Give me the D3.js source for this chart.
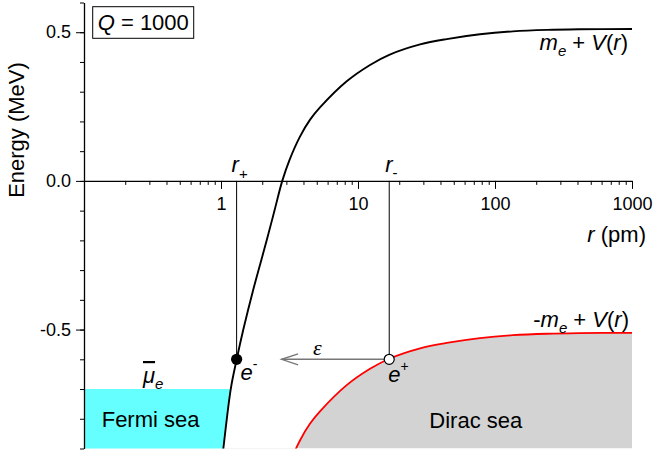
<!DOCTYPE html>
<html>
<head>
<meta charset="utf-8">
<script src="https://d3js.org/d3.v7.min.js"></script>
<style>
  body { margin: 0; background: #fff; }
  svg { font-family: "Liberation Sans", Arial, sans-serif; }
  .axis path, .axis line { stroke: #000; }
</style>
</head>
<body>
<script>
// radius (pm) and potential V(r) (MeV)
const rPm  = [1.0, 1.04, 1.178, 1.302, 1.455, 1.721, 2.156, 2.45, 2.80, 3.16, 3.77, 4.47, 5.28, 8.27, 12.24, 16.9, 28.4, 44.4, 77.7, 135, 240, 417, 1000];
const potV = [-1.476, -1.411, -1.211, -1.111, -1.011, -0.876, -0.711, -0.613, -0.511, -0.441, -0.362, -0.305, -0.264, -0.176, -0.121, -0.087, -0.052, -0.034, -0.018, -0.008, -0.003, -0.001, 0.0];
const me = 0.511;           // electron mass, MeV
const xMajor = [1, 10, 100, 1000];
const yMajor = [-0.5, 0, 0.5];
const yMinor = [-0.9, -0.8, -0.7, -0.6, -0.5, -0.4, -0.3, -0.2, -0.1, 0, 0.1, 0.2, 0.3, 0.4, 0.5, 0.6];
const muBar = -0.7;         // Fermi level
const eLevel = -0.6;        // pair level
const rPlus = 1.30, rMinus = 16.9, arrowTip = 2.77;
const Q = 1000;

const W = 654, H = 454;
const x = d3.scaleLog().domain([0.1, 1000]).range([84, 632]);
const y = d3.scaleLinear().domain([-0.9, 0.6]).range([448.5, 2.5]);

const pts = rPm.map((r, i) => ({ r: r, up: me + potV[i], lo: -me + potV[i] }));

const svg = d3.select("body").append("svg").attr("width", W).attr("height", H);
const defs = svg.append("defs");
defs.append("clipPath").attr("id", "plot").append("rect")
  .attr("x", x(0.1)).attr("y", y(0.6)).attr("width", x(1000) - x(0.1)).attr("height", y(-0.9) - y(0.6));
defs.append("clipPath").attr("id", "fermi").append("rect")
  .attr("x", x(0.1)).attr("y", y(muBar)).attr("width", x(1000) - x(0.1)).attr("height", y(-0.9) - y(muBar));

const smooth = d3.curveCatmullRom.alpha(0.5);
const upLine = d3.line().x(d => x(d.r)).y(d => y(d.up)).curve(smooth);
const loLine = d3.line().x(d => x(d.r)).y(d => y(d.lo)).curve(smooth);
const dirac = d3.area().x(d => x(d.r)).y0(y(-0.9)).y1(d => y(d.lo)).curve(smooth);

// Fermi sea: left of m_e + V(r), below mu
const last = pts[pts.length - 1];
svg.append("path")
  .attr("clip-path", "url(#fermi)")
  .attr("fill", "#66ffff")
  .attr("d", upLine(pts) + "L" + x(0.1) + "," + y(last.up) + "L" + x(0.1) + "," + y(pts[0].up) + "Z");

// Dirac sea
svg.append("path")
  .attr("clip-path", "url(#plot)")
  .attr("fill", "#d3d3d3")
  .attr("d", dirac(pts));

// axes
const xMinor = x.ticks().filter(v => xMajor.indexOf(v) < 0);
svg.append("g").attr("class", "axis").attr("transform", `translate(0,${y(0)})`)
  .call(d3.axisBottom(x).tickValues(xMinor).tickSize(4).tickSizeOuter(0).tickFormat(""))
  .call(g => g.select(".domain").attr("stroke-width", 1.3));
svg.append("g").attr("class", "axis").attr("transform", `translate(0,${y(0)})`)
  .call(d3.axisBottom(x).tickValues(xMajor).tickSize(8).tickSizeOuter(0).tickPadding(8).tickFormat(d3.format("d")))
  .call(g => g.select(".domain").remove())
  .call(g => g.selectAll("text").attr("font-size", 18).attr("font-family", "Liberation Sans, Arial, sans-serif"));

svg.append("g").attr("class", "axis").attr("transform", `translate(${x(0.1)},0)`)
  .call(d3.axisLeft(y).tickValues(yMinor).tickSize(4).tickSizeOuter(0).tickFormat(""))
  .call(g => g.select(".domain").attr("stroke-width", 1.3));
svg.append("g").attr("class", "axis").attr("transform", `translate(${x(0.1)},0)`)
  .call(d3.axisLeft(y).tickValues(yMajor).tickSize(8).tickSizeOuter(0).tickPadding(5).tickFormat(d => d.toFixed(1)))
  .call(g => g.select(".domain").remove())
  .call(g => g.selectAll("text").attr("font-size", 18).attr("font-family", "Liberation Sans, Arial, sans-serif"));

// curves
svg.append("path").attr("clip-path", "url(#plot)").attr("fill", "none")
  .attr("stroke", "#000").attr("stroke-width", 1.9).attr("d", upLine(pts));
svg.append("path").attr("clip-path", "url(#plot)").attr("fill", "none")
  .attr("stroke", "#ff0000").attr("stroke-width", 1.8).attr("d", loLine(pts));

// r+ and r- markers
[rPlus, rMinus].forEach(r => {
  svg.append("line").attr("x1", x(r)).attr("x2", x(r)).attr("y1", y(0)).attr("y2", y(eLevel))
    .attr("stroke", "#000").attr("stroke-width", 1);
});

// arrow epsilon
const ay = y(eLevel), ax = x(arrowTip);
svg.append("line").attr("x1", x(rMinus)).attr("x2", ax).attr("y1", ay).attr("y2", ay)
  .attr("stroke", "#777").attr("stroke-width", 1.6);
svg.append("path").attr("fill", "none").attr("stroke", "#777").attr("stroke-width", 1.4)
  .attr("d", `M${ax + 16.5},${ay - 5.5}L${ax},${ay}L${ax + 16.5},${ay + 5.5}`);

svg.append("circle").attr("cx", x(rPlus)).attr("cy", y(eLevel)).attr("r", 5.6).attr("fill", "#000");
svg.append("circle").attr("cx", x(rMinus)).attr("cy", y(eLevel)).attr("r", 5).attr("fill", "#fff")
  .attr("stroke", "#000").attr("stroke-width", 1.2);

// text helper
function label(px, py, parts, anchor, size) {
  const t = svg.append("text").attr("x", px).attr("y", py)
    .attr("text-anchor", anchor || "start").attr("font-size", size || 22).attr("fill", "#000");
  let shift = 0;
  parts.forEach(p => {
    const s = t.append("tspan").text(p.t);
    const target = p.dy || 0;
    s.attr("dy", target - shift);
    shift = target;
    if (p.it) s.attr("font-style", "italic");
    if (p.fs) s.attr("font-size", p.fs);
    if (p.ff) s.attr("font-family", p.ff);
    if (p.over) s.style("text-decoration", "overline");
  });
  return t;
}

// Q box
svg.append("rect").attr("x", 92.7).attr("y", 6.7).attr("width", 101).attr("height", 31.6)
  .attr("fill", "#fff").attr("stroke", "#000").attr("stroke-width", 1);
label(97.7, 30, [{ t: "Q", it: true }, { t: " = " + Q }]);

// axis titles
label(646, 242, [{ t: "r", it: true }, { t: " (pm)" }], "end");
label(24, 130, [{ t: "Energy (MeV)" }], "middle").attr("transform", "rotate(-90,24,130)");

// curve labels
label(628, 50, [{ t: "m", it: true }, { t: "e", it: true, fs: 15, dy: 6 }, { t: " + " }, { t: "V", it: true }, { t: "(" }, { t: "r", it: true }, { t: ")" }], "end");
label(629, 327, [{ t: "-" }, { t: "m", it: true }, { t: "e", it: true, fs: 15, dy: 6 }, { t: " + " }, { t: "V", it: true }, { t: "(" }, { t: "r", it: true }, { t: ")" }], "end");

label(101.7, 426.7, [{ t: "Fermi sea" }]);
label(429.3, 427.7, [{ t: "Dirac sea" }]);
label(143, 383, [{ t: "\u03bc", it: true, over: true }, { t: "e", it: true, fs: 15, dy: 6 }]);

label(x(rPlus) + 4, y(eLevel) + 21, [{ t: "e", it: true }, { t: "-", fs: 14, dy: -11 }]);
label(x(rMinus) - 1, y(eLevel) + 22.5, [{ t: "e", it: true }, { t: "+", fs: 14, dy: -11 }]);
label(313, 355, [{ t: "\u03b5", it: true, ff: "Liberation Serif, DejaVu Serif, serif" }]);

label(x(rPlus) - 5, y(0) - 9, [{ t: "r", it: true }, { t: "+", fs: 15, dy: 7 }]);
label(x(rMinus) - 4, y(0) - 9, [{ t: "r", it: true }, { t: "-", fs: 15, dy: 6 }]);
</script>
</body>
</html>
